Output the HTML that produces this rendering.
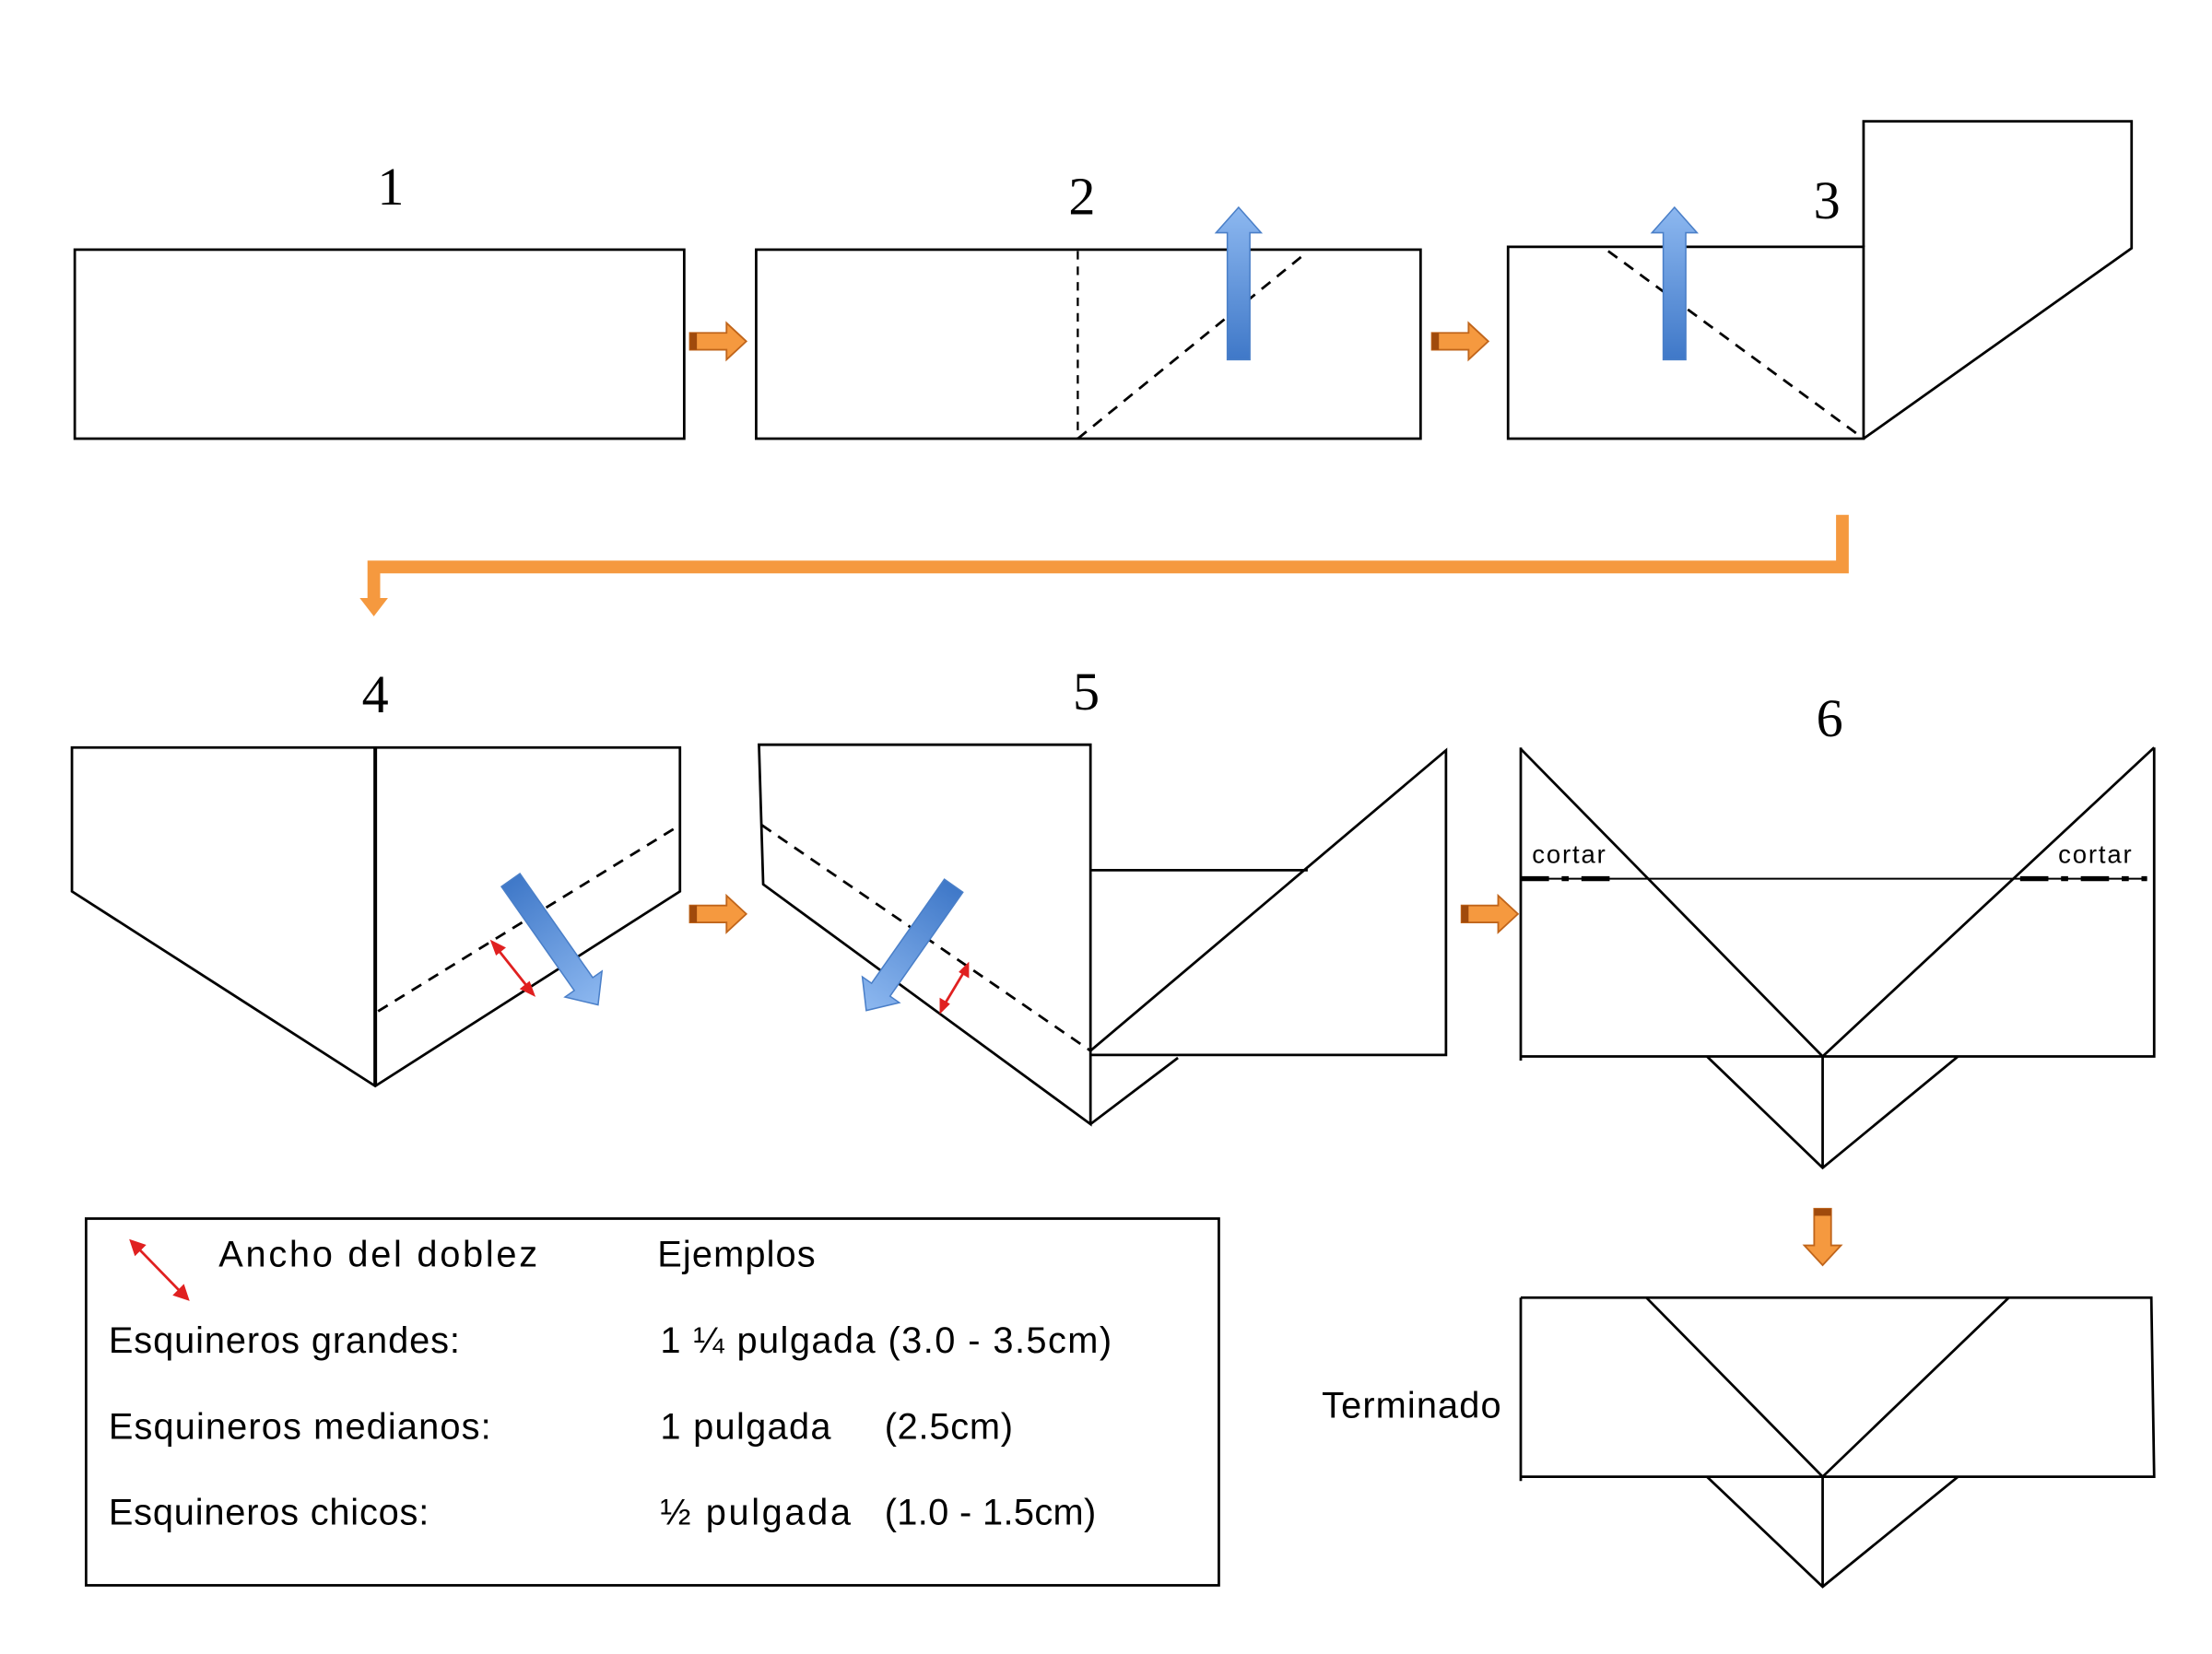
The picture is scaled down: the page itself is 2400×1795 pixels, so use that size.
<!DOCTYPE html>
<html><head><meta charset="utf-8"><style>
html,body{margin:0;padding:0;background:#fff;}
svg{display:block;}
text{font-family:"Liberation Sans",sans-serif;fill:#000;}
.n{font-family:"Liberation Serif",serif;font-size:38px;text-anchor:middle;}
.t{font-size:26px;}
</style></head><body>
<svg width="2400" height="1795" viewBox="0 0 1568 1172.7" preserveAspectRatio="none" xmlns="http://www.w3.org/2000/svg">
<defs>
<linearGradient id="bu" x1="0" y1="0" x2="0" y2="1"><stop offset="0" stop-color="#8db8f0"/><stop offset="1" stop-color="#3f78c8"/></linearGradient>
<g id="oa"><path d="M0,-6 H26 V-13 L40,0 L26,13 V6 H0 Z" fill="#f5993f" stroke="#c0651b" stroke-width="1.2"/><rect x="0" y="-6" width="5" height="12" fill="#a04a0c"/></g>
<g id="ba"><path d="M-8,0 V-90 H-16 L0,-108 L16,-90 H8 V0 Z" fill="url(#bu)" stroke="#4a7fc8" stroke-width="1"/></g>
</defs>
<g fill="none" stroke="#000" stroke-width="1.8">
<rect x="53" y="177" width="432" height="134"/>
<rect x="536" y="177" width="471" height="134"/>
<line x1="764" y1="178" x2="764" y2="311" stroke-dasharray="6,5" stroke-width="1.5"/>
<line x1="764" y1="311" x2="925" y2="180" stroke-dasharray="8,6"/>
<rect x="1069" y="175" width="252" height="136"/>
<path d="M1321,175 V86 H1511 V176 L1321,311"/>
<line x1="1140" y1="178" x2="1321" y2="311" stroke-dasharray="8,6"/>
<path d="M51,530 H482 V632 L266,770 L51,632 Z"/>
<line x1="266" y1="530" x2="266" y2="770" stroke-width="2.6"/>
<line x1="268" y1="717" x2="482" y2="585" stroke-dasharray="8,6"/>
<path d="M538,528 H773 V797 L541,627 Z"/>
<line x1="540" y1="585" x2="773" y2="745" stroke-dasharray="8,6"/>
<path d="M773,745 L1025,532 V748 H773"/>
<line x1="773" y1="617" x2="927" y2="617"/>
<line x1="773" y1="797" x2="835" y2="750"/>
<path d="M1078,530 V752 M1078,749 H1527 V530"/>
<path d="M1078,531 L1292,749 L1527,530"/>
<line x1="1078" y1="623" x2="1522" y2="623" stroke-width="1.3"/>
<path d="M1210,749 L1292,828 L1388,749 M1292,749 V828"/>
<path d="M1078,920 H1525 L1527,1047 H1078 M1078,920 V1050"/>
<path d="M1167,920 L1292,1047 L1424,920"/>
<path d="M1210,1047 L1292,1125 L1388,1047 M1292,1047 V1125"/>
<rect x="61" y="864" width="803" height="260"/>
</g>
<g stroke="#000" stroke-width="3.5" stroke-dasharray="20,9,5,9">
<line x1="1078" y1="623" x2="1150" y2="623"/>
<line x1="1432" y1="623" x2="1522" y2="623"/>
</g>
<use href="#oa" x="489" y="242"/>
<use href="#oa" x="1015" y="242"/>
<use href="#oa" x="489" y="648"/>
<use href="#oa" x="1036" y="648"/>
<use href="#oa" transform="translate(1292,857) rotate(90)"/>
<path d="M1306,365 V402 H265 V425" fill="none" stroke="#f5993f" stroke-width="9"/>
<path d="M255,424 H275 L265,437 Z" fill="#f5993f"/>
<use href="#ba" transform="translate(878,255)"/>
<use href="#ba" transform="translate(1187,255)"/>
<use href="#ba" transform="translate(362,624) rotate(145)"/>
<use href="#ba" transform="translate(676,628) rotate(-145)"/>
<g stroke="#e02020" stroke-width="1.8" fill="#e02020">
<line x1="352" y1="672" x2="375" y2="701"/>
<path d="M349,668 L357,672 L352,676Z"/><path d="M378,705 L370,701 L375,697Z"/>
<line x1="684" y1="688" x2="669" y2="713"/>
<path d="M686,684 L686,692 L681,689Z"/><path d="M667,717 L667,709 L672,712Z"/>
<line x1="96" y1="883" x2="130" y2="918"/>
<path d="M93,880 L102,883 L96,889Z"/><path d="M133,921 L124,918 L130,912Z"/>
</g>
<text class="n" x="277" y="145">1</text>
<text class="n" x="767" y="152">2</text>
<text class="n" x="1295" y="155">3</text>
<text class="n" x="266" y="505">4</text>
<text class="n" x="770" y="503">5</text>
<text class="n" x="1297" y="522">6</text>
<text x="1086" y="612" font-size="18" textLength="52">cortar</text>
<text x="1459" y="612" font-size="18" textLength="52">cortar</text>
<text class="t" x="937" y="1005" textLength="127">Terminado</text>
<text class="t" x="155" y="898" textLength="226">Ancho del doblez</text>
<text class="t" x="466" y="898" textLength="112">Ejemplos</text>
<text class="t" x="77" y="959" textLength="249">Esquineros grandes:</text>
<text class="t" x="468" y="959" textLength="320">1 ¼ pulgada (3.0 - 3.5cm)</text>
<text class="t" x="77" y="1020" textLength="271">Esquineros medianos:</text>
<text class="t" x="468" y="1020" textLength="121">1 pulgada</text>
<text class="t" x="627" y="1020" textLength="91">(2.5cm)</text>
<text class="t" x="77" y="1081" textLength="227">Esquineros chicos:</text>
<text class="t" x="468" y="1081" textLength="135">½ pulgada</text>
<text class="t" x="627" y="1081" textLength="150">(1.0 - 1.5cm)</text>
</svg>
</body></html>
